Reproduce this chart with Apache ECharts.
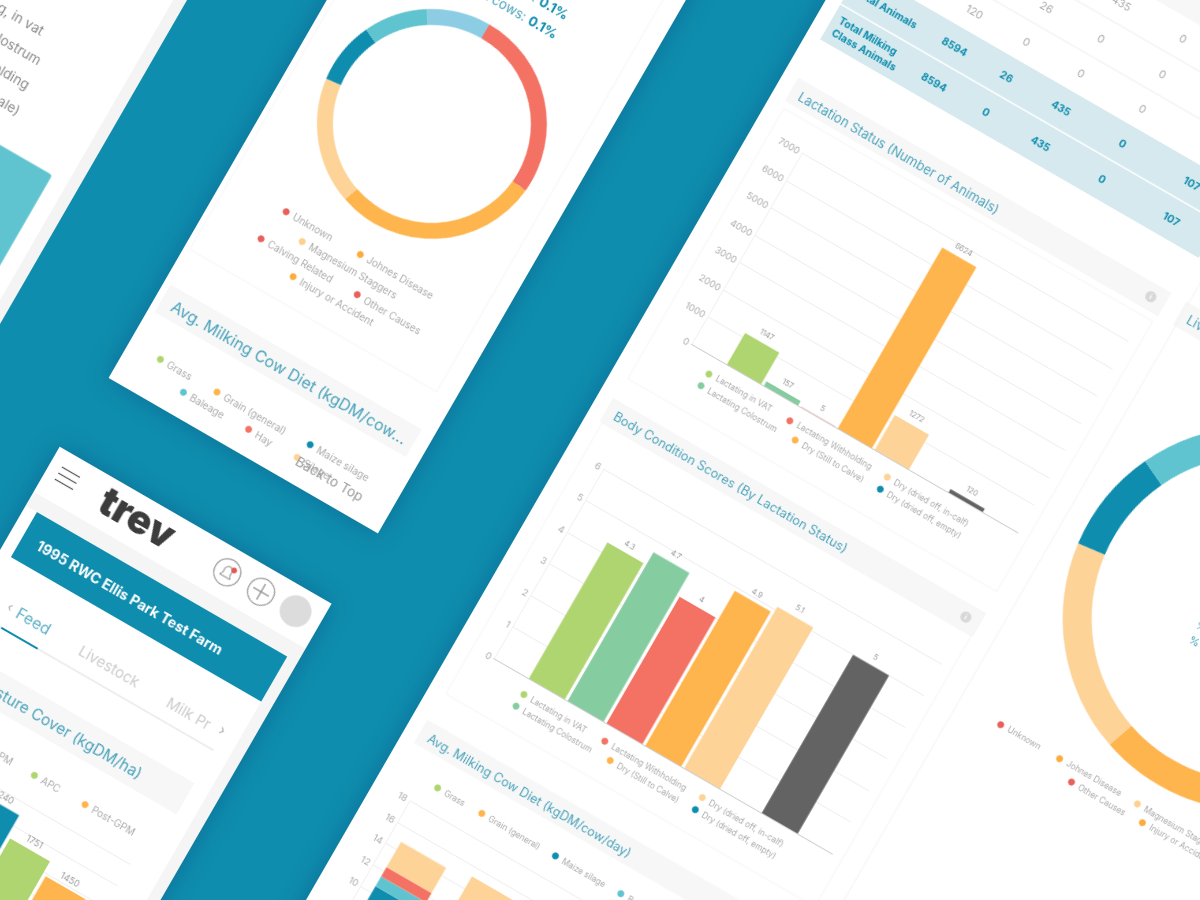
<!DOCTYPE html>
<html><head><meta charset="utf-8">
<script src="https://cdn.jsdelivr.net/npm/echarts@6/dist/echarts.min.js"></script>
<style>
html,body{margin:0;padding:0;width:1200px;height:900px;overflow:hidden;background:#0e8dae}
#c{position:absolute;left:0;top:0;width:1700px;height:1600px;transform-origin:0 0;transform:rotate(30deg) translate(-100px,-700px);filter:blur(.35px)}
</style></head><body><div id="c"></div>
<script>
// ---- data ----
const lactationNames=['Lactating in VAT','Lactating Colostrum','Lactating Withholding','Dry (Still to Calve)','Dry (dried off, in-calf)','Dry (dried off, empty)','Other Stock'];
const lactationValues=[1147,157,5,6624,1272,0,120];
const conditionValues=[4.3,4.7,4,4.9,5.1,0,5];
const dietMonths=['Jan','Feb','Mar','Apr','May'];
const dietGrass=[4,4.4,4.6,4.2,4];
const dietGrain=[3.5,3.6,3.2,3.4,3.6];
const dietMaize=[3.1,3.2,3,3,3.2];
const dietBaleage=[0.9,0.9,1,0.8,0.9];
const dietHay=[0.9,0.8,0.9,0.8,0.8];
const dietSilage=[2.35,2.3,2,2.2,2.3];
const pastureNames=['Pre-GPM','APC','Post-GPM'];
const pastureValues=[2240,1751,1450];
const causeNames=['Unknown','Johnes Disease','Magnesium Staggers','Other Causes','Injury or Accident','Calving Related'];
const causeValues=[26.5,28.8,17.8,8.9,9,9];
const tableRows=[['','','435','0'],['','26','0','0'],['120','0','0','0']];
const tableTotals=[['8594','26','435','0','107'],['8594','0','435','0','107']];
const stockLines=['Lactating, in vat','Lactating, colostrum','Lactating, withholding','Replacement (male)'];
const stockBar=[87.25];

// ---- style ----
const FONT='Inter';
const C={teal:'#0e8dae',lteal:'#5fc4cf',lblue:'#8ccde4',red:'#f47264',orange:'#feb54d',light:'#fdd398',green:'#aed56f',mint:'#85cca0',gray:'#636363',title:'#4aa3bb',txt:'#aaaaaa'};
const barColors=[C.green,C.mint,C.red,C.orange,C.light,C.teal,C.gray];
const U0=100,V0=700,X=u=>u+U0,Y=v=>v+V0;
const back=[],front=[],grid=[],xAxis=[],yAxis=[],series=[],legend=[];
function rect(arr,u1,v1,u2,v2,fill,extra){arr.push(Object.assign({type:'rect',z:arr===back?-5:20,silent:true,shape:{x:X(u1),y:Y(v1),width:u2-u1,height:v2-v1},style:{fill}},extra||{}));}
function frame(u1,v1,u2,v2,col){back.push({type:'rect',z:-4,silent:true,shape:{x:X(u1),y:Y(v1),width:u2-u1,height:v2-v1},style:{fill:'none',stroke:col||'#f5f5f5',lineWidth:1}});}
function line(u1,v1,u2,v2,col,w,z){(z?front:back).push({type:'line',z:z?20:-4,silent:true,shape:{x1:X(u1),y1:Y(v1),x2:X(u2),y2:Y(v2)},style:{stroke:col,lineWidth:w||1}});}
function circle(u,v,r,fill,stroke){front.push({type:'circle',z:20,silent:true,shape:{cx:X(u),cy:Y(v),r},style:{fill:fill||'none',stroke:stroke||null,lineWidth:1.2}});}
function text(u,v,s,size,color,weight,align,fam){front.push({type:'text',z:21,silent:true,x:X(u),y:Y(v),style:{text:s,fill:color,font:(weight||400)+' '+size+'px '+(fam||FONT),align:align||'left',verticalAlign:'middle'}});}
function leg(items,size){items.forEach(([name,u,v,color])=>{const d={name,icon:'circle'};if(color)d.itemStyle={color};
 legend.push({left:X(u)-3.5,top:Y(v)-5.5,padding:0,itemWidth:7,itemHeight:7,itemGap:0,selectedMode:false,data:[d],textStyle:{fontFamily:FONT,fontSize:size||8.3,color:C.txt},z:6});});}
function axes(left,right,top,bottom,cats,max,interval,showY){
 const i=grid.length;
 grid.push({left:X(left),top:Y(top),width:right-left,height:bottom-top,containLabel:false,z:1});
 xAxis.push({type:'category',gridIndex:i,data:cats,axisLine:{lineStyle:{color:'#cfcfcf'}},axisTick:{show:false},axisLabel:{show:false}});
 yAxis.push({type:'value',gridIndex:i,min:0,max,interval,axisLine:{show:true,lineStyle:{color:'#f1f1f1'}},axisTick:{show:false},
  axisLabel:{show:showY!==false,fontFamily:FONT,fontSize:9.5,color:C.txt,margin:3,formatter:v=>String(v)},splitLine:{lineStyle:{color:'#efefef'}}});
 return i;}
function barLabel(size){return {show:true,position:'top',distance:5,fontFamily:FONT,fontSize:size||7.5,color:'#999',formatter:p=>p.value?String(p.value):''};}
function card(titleStr,u1,u2,vc,h,size,icon){rect(back,u1,vc-h/2,u2,vc+h/2,'#f7f7f7');text(u1+10,vc+1,titleStr,size,C.title,400);
 if(icon){circle(u2-16,vc,5.5,'#d8d8d8');text(u2-16,vc,'i',7,'#fff',700,'center');}}

// ---- panels ----
const shadow={shadowBlur:26,shadowColor:'rgba(0,40,60,.22)'};
rect(back,-200,-300,150,520,'#ffffff');
rect(back,150,-300,162,520,'#f4f4f4');
rect(back,283,-800,594,273,'#ffffff',{style:{fill:'#ffffff',...shadow}});
rect(back,275,357,589,1200,'#ffffff',{style:{fill:'#ffffff',...shadow}});
rect(back,715,-800,1800,1300,'#ffffff',{style:{fill:'#ffffff',...shadow}});

// ---- top-left panel ----
const stockEnds=[[53,6],[65.5,33],[67.5,60],[72.5,87]];
stockLines.forEach((s,i)=>text(stockEnds[i][0],stockEnds[i][1],s,13.6,'#8a8a8a',400,'right'));
{const i=axes(-40,152.5,100,300,['stock'],100,100,false);
 xAxis[i].axisLine.show=false;yAxis[i].axisLine.show=false;yAxis[i].splitLine.show=false;
 series.push({type:'bar',name:'Stock',xAxisIndex:i,yAxisIndex:i,barWidth:153,data:stockBar,itemStyle:{color:C.lteal,borderRadius:[3,3,0,0]}});}

// ---- table ----
rect(back,730,-457,1167,-417.5,'#d5e9ee');
rect(back,730,-416,1167,-376,'#d5e9ee');
rect(back,730,-640,1167,-578,'#f7f7f7');
line(730,-497,1167,-497,'#eeeeee');line(730,-538,1167,-538,'#eeeeee');
const colU=[850,910,973,1044,1124];
tableRows.forEach((r,k)=>r.forEach((s,j)=>{if(s)text(colU[j],[-558,-517,-477][k],s,11,'#aaaaaa',400,'center');}));
tableTotals.forEach((r,k)=>r.forEach((s,j)=>text(colU[j],[-437,-396][k],s,10.5,C.teal,700,'center')));
text(737,-436,'Total Animals',10.5,C.teal,700);
text(737,-403,'Total Milking',10.5,C.teal,700);
text(737,-389,'Class Animals',10.5,C.teal,700);

// ---- right column cards ----
frame(733,-298,1159,14);frame(733,65,1159,378);line(1181,-420,1181,1000,'#f3f3f3');
card('Lactation Status (Number of Animals)',730,1161,-318.5,27,13,true);
card('Body Condition Scores (By Lactation Status)',730,1161,51.5,27,12.8,true);
card('Avg. Milking Cow Diet (kgDM/cow/day)',730,1161,423,27,12.6,false);
card('Livestock Losses',1178,1600,-318.5,27,13,false);

// lactation
{const i=axes(771,1148,-268.5,-48,['Animals'],7000,1000);
 lactationNames.forEach((n,k)=>series.push({type:'bar',name:n,xAxisIndex:i,yAxisIndex:i,barWidth:39.5,barGap:'8%',data:[lactationValues[k]],itemStyle:{color:barColors[k]},label:barLabel()}));
 const q=[[801,-29],[800,-15],[894.4,-29],[908.7,-15],[1007,-29],[1007,-15]];
 leg(q.map((p,k)=>[lactationNames[k],p[0],p[1]]));}
// condition
{const i=axes(757,1148,104,323,['Score'],6,1);
 lactationNames.forEach((n,k)=>series.push({type:'bar',name:n,xAxisIndex:i,yAxisIndex:i,barWidth:41.5,barGap:'8%',data:[conditionValues[k]],itemStyle:{color:barColors[k]},label:barLabel()}));
 const q=[[801,341],[800,355],[894.4,341],[908.7,355],[1007,341],[1007,355]];
 leg(q.map((p,k)=>[lactationNames[k],p[0],p[1]]));}
// diet
const dietNames=['Grass','Grain (general)','Maize silage','Baleage','Hay','Silage'];
const dietColors=[C.green,C.orange,C.teal,C.lteal,C.red,C.light];
{const i=axes(755,1148,488.5,710,dietMonths,18,2);
 [dietGrass,dietGrain,dietMaize,dietBaleage,dietHay,dietSilage].forEach((d,k)=>series.push({type:'bar',name:dietNames[k],stack:'diet',xAxisIndex:i,yAxisIndex:i,barWidth:52,data:d,itemStyle:{color:dietColors[k]}}));
 leg([[dietNames[0],773,465],[dietNames[1],824,465],[dietNames[2],909,465],[dietNames[3],984.5,465],[dietNames[4],1050,465],[dietNames[5],1095,465]]);}

// donuts
const causeColors=[C.red,C.orange,C.light,C.teal,C.lteal,C.lblue];
function donut(u,v,r0,r1){series.push({type:'pie',name:'Causes',center:[X(u),Y(v)],radius:[r0,r1],startAngle:90,label:{show:false},labelLine:{show:false},silent:true,
 data:causeNames.map((n,k)=>({name:n,value:causeValues[k],itemStyle:{color:causeColors[k]}}))});}
donut(1396,-91.4,163,192);
donut(436,-108.6,99,115);
const dotCol=['#e8605c','#fcab3f','#fdd08f','#e8605c','#fcab3f','#e8605c'];
leg([[causeNames[0],1229,128.7,dotCol[0]],[causeNames[1],1297,128.7,dotCol[1]],[causeNames[2],1387,129,dotCol[2]],[causeNames[3],1319,143,dotCol[3]],[causeNames[4],1400.7,142.8,dotCol[4]],[causeNames[5],1493,143,dotCol[5]]]);
text(1348.6,-58,'% of cows: 0.1%',11,'#6db6c9');text(1349.7,-42.5,'% of adult cows: 0.1%',11,'#3d9fb8');

// ---- middle phone ----
frame(289,-400,574,121);
leg([[causeNames[0],353.7,40.7,dotCol[0]],[causeNames[1],439.3,40.7,dotCol[1]],[causeNames[2],382.5,58.6,dotCol[2]],[causeNames[5],345.5,76.7,dotCol[5]],[causeNames[3],456.7,77,dotCol[3]],[causeNames[4],392.2,93.5,dotCol[4]]],10);
text(464,-270,'% of cows:',13.5,'#4aa3bb',400,'right');text(499.5,-270,'0.1%',13.5,C.teal,700,'right');
text(464,-248,'% of adult cows:',13.5,'#4aa3bb',400,'right');text(499.5,-248,'0.1%',13.5,C.teal,700,'right');
rect(back,290,161,580,193,'#f7f7f7');
text(302,178,'Avg. Milking Cow Diet (kgDM/cow...',16,C.title,400);
leg([[dietNames[0],318.6,231.5],[dietNames[1],384,231.5],[dietNames[3],355,248.5],[dietNames[4],430,248],[dietNames[2],491,230.5],[dietNames[5],486,248]],10);
text(487,250,'Back to Top',13.5,'#999999');

// ---- lower phone ----
rect(back,275,409,589,425,'#f5f5f5');
rect(back,577,425,589,1200,'#f5f5f5');
rect(back,288,425,577,477,C.teal);
text(305,452,'1995 RWC Ellis Park Test Farm',14.4,'#ffffff',700);
text(378,379,'trev',40,'#3c3c3c',900,'center','Inter');
[-7,0,7].forEach(d=>line(287,380.5+d,308,380.5+d,'#555555',1.2,true));
circle(483,382,13.5,'#ffffff','#9a9a9a');
front.push({type:'polygon',z:21,silent:true,shape:{points:[[-6,5],[-4,2],[-4,-3],[-2,-6],[2,-6],[4,-3],[4,2],[6,5]].map(p=>[X(483+p[0]),Y(382+p[1])])},style:{fill:'none',stroke:'#888',lineWidth:1}});
circle(488,377,3,'#f0524b');
circle(522,382,13.5,'#ffffff','#9a9a9a');
line(513,382,531,382,'#888888',1.2,true);line(522,373,522,391,'#888888',1.2,true);
circle(561.6,381.5,16,'#dcdcdc');
text(310,520,'‹',13,'#aaaaaa');
text(321,521,'Feed',16,'#5fb0c4');
text(394,522,'Livestock',15,'#cccccc');
text(496,523,'Milk Pr',15,'#cccccc');
text(555,520,'›',14,'#aaaaaa');
line(285,543,560,543,'#dddddd',1,true);line(315,543,357,543,C.teal,2,true);
rect(back,290,581,560,617,'#f7f7f7');
text(509.5,601,'Pasture Cover (kgDM/ha)',15.5,C.title,400,'right');
{const i=axes(357,545,683.6,808.6,['Paddock'],2500,500,false);
 const col=[C.teal,C.green,C.orange];
 pastureNames.forEach((n,k)=>series.push({type:'bar',name:n,xAxisIndex:i,yAxisIndex:i,barWidth:46,barGap:'8%',data:[pastureValues[k]],itemStyle:{color:col[k]},label:barLabel(9)}));
 leg([[pastureNames[0],340,654.7],[pastureNames[1],417.5,654.7],[pastureNames[2],476,654.7]],10);}

const chart=echarts.init(document.getElementById('c'),null,{renderer:'svg',width:1700,height:1600});
chart.setOption({animation:false,backgroundColor:'transparent',tooltip:{show:false},grid,xAxis,yAxis,series,legend,graphic:{elements:back.concat(front)}});
</script></body></html>
